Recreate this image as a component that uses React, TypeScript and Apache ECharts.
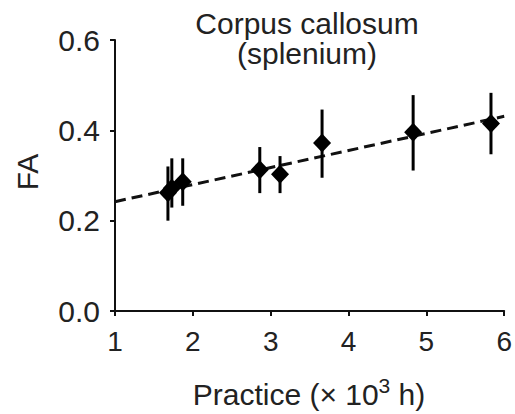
import React, { useEffect, useRef } from "react";
import * as echarts from "echarts";

const practice = [1.68, 1.73, 1.87, 2.86, 3.12, 3.66, 4.83, 5.83];
const faMean = [0.262, 0.272, 0.286, 0.313, 0.303, 0.372, 0.396, 0.415];
const faLow = [0.2, 0.229, 0.233, 0.261, 0.261, 0.295, 0.311, 0.347];
const faHigh = [0.32, 0.338, 0.338, 0.363, 0.343, 0.446, 0.478, 0.483];
const fitX = [1, 6];
const fitY = [0.242, 0.431];
const yTicks = [0, 0.2, 0.4, 0.6];

const FONT = "Liberation Sans";

export default function App() {
  const ref = useRef<HTMLDivElement>(null);
  useEffect(() => {
    if (!ref.current) return;
    document.body.style.margin = "0";
    document.body.style.overflow = "hidden";
    const chart = echarts.init(ref.current, null, { renderer: "svg" });
    const points = practice.map((x, i) => [x, faMean[i]]);
    const bars = practice.map((x, i) => [x, faLow[i], faHigh[i]]);
    const fit = fitX.map((x, i) => [x, fitY[i]]);
    chart.setOption({
      animation: false,
      backgroundColor: "#ffffff",
      grid: { left: 115, right: 10, top: 40, height: 271 },
      xAxis: {
        type: "value",
        min: 1,
        max: 6,
        interval: 1,
        splitLine: { show: false },
        axisLine: { onZero: false, lineStyle: { color: "#111", width: 2 } },
        axisTick: { show: true, length: 5, lineStyle: { color: "#111", width: 2 } },
        axisLabel: { color: "#222", fontSize: 28, fontFamily: FONT, margin: 16 },
      },
      yAxis: {
        type: "value",
        min: 0,
        max: 0.6,
        interval: 0.2,
        splitLine: { show: false },
        axisLine: { show: true, onZero: false, lineStyle: { color: "#111", width: 2 } },
        axisTick: { show: true, length: 5, lineStyle: { color: "#111", width: 2 } },
        axisLabel: {
          color: "#222",
          fontSize: 30,
          fontFamily: FONT,
          margin: 15,
          formatter: (v: number) => (yTicks.some((t) => Math.abs(t - v) < 1e-9) ? v.toFixed(1) : ""),
        },
      },
      graphic: [
        {
          type: "text",
          x: 307,
          y: 23,
          style: {
            text: "Corpus callosum",
            fill: "#222",
            font: `30px '${FONT}'`,
            textAlign: "center",
            textVerticalAlign: "middle",
          },
        },
        {
          type: "text",
          x: 307,
          y: 53,
          style: {
            text: "(splenium)",
            fill: "#222",
            font: `30px '${FONT}'`,
            textAlign: "center",
            textVerticalAlign: "middle",
          },
        },
        {
          type: "text",
          x: 27,
          y: 172,
          rotation: Math.PI / 2,
          style: {
            text: "FA",
            fill: "#222",
            font: `30px '${FONT}'`,
            textAlign: "center",
            textVerticalAlign: "middle",
          },
        },
        {
          type: "text",
          x: 309,
          y: 394,
          style: {
            text: "Practice (× 10{sup|3} h)",
            fill: "#222",
            font: `30px '${FONT}'`,
            textAlign: "center",
            textVerticalAlign: "middle",
            rich: {
              sup: { fontSize: 21, fontFamily: FONT, fill: "#222", verticalAlign: "top", padding: [0, 0, 18, 0] },
            },
          },
        },
      ],
      series: [
        {
          type: "line",
          data: fit,
          symbol: "none",
          lineStyle: { color: "#111", width: 3, type: [11, 6] },
          z: 1,
        },
        {
          type: "custom",
          data: bars,
          renderItem: (params: any, api: any) => {
            const x = api.value(0);
            const lo = api.coord([x, api.value(1)]);
            const hi = api.coord([x, api.value(2)]);
            return {
              type: "line",
              shape: { x1: lo[0], y1: lo[1], x2: hi[0], y2: hi[1] },
              style: { stroke: "#000", lineWidth: 3 },
            };
          },
          z: 2,
        },
        {
          type: "scatter",
          data: points,
          symbol: "diamond",
          symbolSize: [18, 19],
          itemStyle: { color: "#000", opacity: 1 },
          z: 3,
        },
      ],
    });
    return () => chart.dispose();
  }, []);
  return <div ref={ref} style={{ position: "absolute", left: 0, top: 0, width: 515, height: 414 }} />;
}
